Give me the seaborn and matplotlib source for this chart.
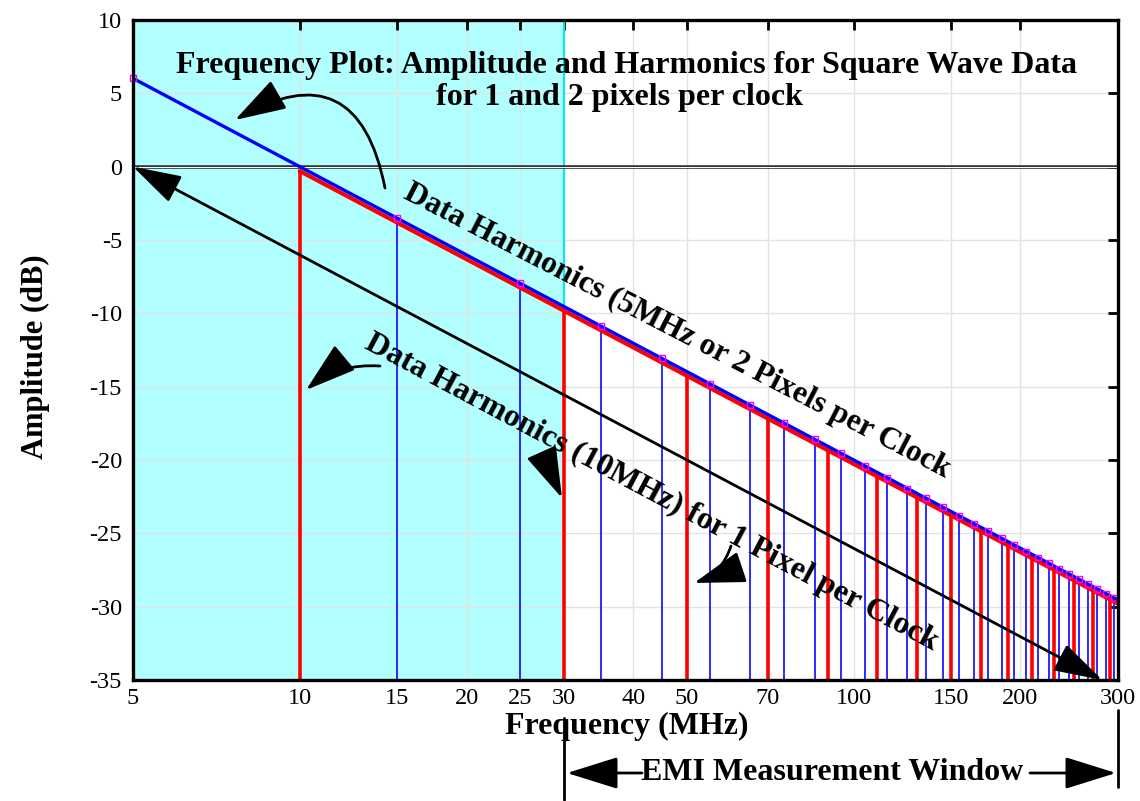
import matplotlib
matplotlib.use("Agg")
import matplotlib.pyplot as plt
import seaborn as sns

# --- Data ---
# odd harmonics of 5 MHz (2 pixels per clock)
BLUE_FREQ = [5, 15, 25, 35, 45, 55, 65, 75, 85, 95, 105, 115, 125, 135, 145,
             155, 165, 175, 185, 195, 205, 215, 225, 235, 245, 255, 265, 275, 285, 295]
BLUE_DB = [6.02, -3.52, -7.96, -10.88, -13.06, -14.81, -16.26, -17.50, -18.59, -19.55,
           -20.42, -21.21, -21.94, -22.61, -23.23, -23.81, -24.35, -24.86, -25.34, -25.80,
           -26.24, -26.65, -27.04, -27.42, -27.78, -28.13, -28.46, -28.79, -29.10, -29.40]
# odd harmonics of 10 MHz (1 pixel per clock)
RED_FREQ = [10, 30, 50, 70, 90, 110, 130, 150, 170, 190, 210, 230, 250, 270, 290]
RED_DB = [-0.3, -9.8, -14.3, -17.2, -19.4, -21.1, -22.6, -23.8, -24.9, -25.9,
          -26.7, -27.5, -28.3, -28.9, -29.5]

# envelopes
BLUE_LINE_FREQ = [5, 300]
BLUE_LINE_DB = [6.02, -29.54]
RED_LINE_FREQ = [10, 300]
RED_LINE_DB = [-0.3, -29.8]
SLOPE_FREQ = [5, 281]
SLOPE_DB = [0, -35]

X_TICKS = [5, 10, 15, 20, 25, 30, 40, 50, 70, 100, 150, 200, 300]
Y_TICKS = [-35, -30, -25, -20, -15, -10, -5, 0, 5, 10]
SHADE = (5, 30)
EMI = (30, 300)

W, H = 1140, 801


def px(x, y):
    """image pixel (top-left origin) -> figure fraction"""
    return x / W, 1 - y / H


sns.set_style("white")
plt.rcParams["font.family"] = ["Liberation Serif", "DejaVu Serif"]
plt.rcParams["axes.unicode_minus"] = False
plt.rcParams["text.color"] = "black"

fig = plt.figure(figsize=(W / 100, H / 100), dpi=100)
l, b = px(133, 680)
ax = fig.add_axes([l, b, (1118 - 133) / W, (680 - 20) / H])
ax.set_xscale("log")
ax.set_xlim(5, 300)
ax.set_ylim(-35, 10)

# shaded low-frequency region
ax.axvspan(*SHADE, color="#b2ffff", zorder=0, lw=0)
ax.axvline(SHADE[1], color="#00e8ff", lw=1.5, zorder=0.6)

# grid
for xt in X_TICKS:
    ax.axvline(xt, color="#e3e3e3", lw=1.0, zorder=0.5)
for yt in Y_TICKS:
    ax.axhline(yt, color="#e3e3e3", lw=1.0, zorder=0.5)
ax.axhline(0, color="#333333", lw=2.6, zorder=0.7)
ax.axhline(0, color="white", lw=0.7, zorder=0.8)

# harmonic stems
ax.vlines(BLUE_FREQ, -35, BLUE_DB, color="#1a1aff", lw=1.3, zorder=2)
ax.vlines(RED_FREQ, -35, RED_DB, color="red", lw=2.6, zorder=3)

# envelopes
sns.lineplot(x=RED_LINE_FREQ, y=RED_LINE_DB, color="red", lw=3, ax=ax, zorder=4)
sns.lineplot(x=BLUE_LINE_FREQ, y=BLUE_LINE_DB, color="blue", lw=2.4, ax=ax, zorder=5)
sns.scatterplot(x=BLUE_FREQ, y=BLUE_DB, marker="s", s=18, facecolor="none",
                edgecolor="#ff00ff", linewidth=1, ax=ax, zorder=6, clip_on=False)

# -20 dB/decade reference arrow
ax.annotate("", xy=(SLOPE_FREQ[0], SLOPE_DB[0]), xytext=(SLOPE_FREQ[1], SLOPE_DB[1]),
            arrowprops=dict(arrowstyle="<|-|>,head_length=1.5,head_width=0.45",
                            mutation_scale=20, color="black", lw=2,
                            shrinkA=0, shrinkB=0), zorder=7)

# axes styling
ax.set_xticks(X_TICKS)
ax.set_xticklabels([str(v) for v in X_TICKS])
ax.xaxis.set_minor_locator(matplotlib.ticker.NullLocator())
ax.set_yticks(Y_TICKS)
ax.set_yticklabels([str(v) for v in Y_TICKS])
ax.tick_params(direction="in", top=True, right=True, length=7, width=2,
               labelsize=17.5, pad=8, colors="black")
ax.tick_params(axis="x", pad=6)
for sp in ax.spines.values():
    sp.set_linewidth(2.4)
    sp.set_color("black")
    sp.set_zorder(8)

fig.text(*px(35, 357), "Amplitude (dB)", rotation=90, ha="center", va="center",
         fontsize=22, fontweight="bold")
fig.text(*px(627, 726), "Frequency (MHz)", ha="center", va="center",
         fontsize=23, fontweight="bold")

# in-plot annotations
fig.text(*px(627, 65), "Frequency Plot: Amplitude and Harmonics for Square Wave Data",
         ha="center", va="center", fontsize=23, fontweight="bold")
fig.text(*px(620, 97), "for 1 and 2 pixels per clock",
         ha="center", va="center", fontsize=23, fontweight="bold")
fig.text(*px(674, 338), "Data Harmonics (5MHz or 2 Pixels per Clock",
         rotation=-27.3, rotation_mode="anchor", ha="center", va="baseline",
         fontsize=22.7, fontweight="bold")
fig.text(*px(648, 499), "Data Harmonics (10MHz) for 1 Pixel per Clock",
         rotation=-28.0, rotation_mode="anchor", ha="center", va="baseline",
         fontsize=23, fontweight="bold")

head = "-|>,head_length=1.6,head_width=0.5"
curved = [((385, 188), (235, 120), 0.7),
          ((380, 366), (306, 390), 0.2),
          ((535, 460), (562, 498), -0.1),
          ((731, 546), (694, 583), -0.25)]
for tail, tip, rad in curved:
    fig.add_artist(matplotlib.patches.FancyArrowPatch(
        px(*tail), px(*tip), transform=fig.transFigure,
        arrowstyle=head, mutation_scale=20, connectionstyle=f"arc3,rad={rad}",
        color="black", lw=2, shrinkA=0, shrinkB=0, zorder=9))

# EMI measurement window
ax.plot([EMI[0], EMI[0]], [-0.058, -0.182], transform=ax.get_xaxis_transform(),
        color="black", lw=2, clip_on=False)
ax.plot([EMI[1], EMI[1]], [-0.045, -0.162], transform=ax.get_xaxis_transform(),
        color="black", lw=2, clip_on=False)
fig.text(*px(832, 773), "EMI Measurement Window", ha="center", va="center",
         fontsize=23, fontweight="bold")
ax.annotate("", xy=px(567, 773), xytext=px(642, 773), xycoords="figure fraction",
            arrowprops=dict(arrowstyle=head, mutation_scale=20, color="black", lw=2,
                            shrinkA=0, shrinkB=0))
ax.annotate("", xy=px(1116, 773), xytext=px(1030, 773), xycoords="figure fraction",
            arrowprops=dict(arrowstyle=head, mutation_scale=20, color="black", lw=2,
                            shrinkA=0, shrinkB=0))

fig.savefig("out.png", dpi=100)
